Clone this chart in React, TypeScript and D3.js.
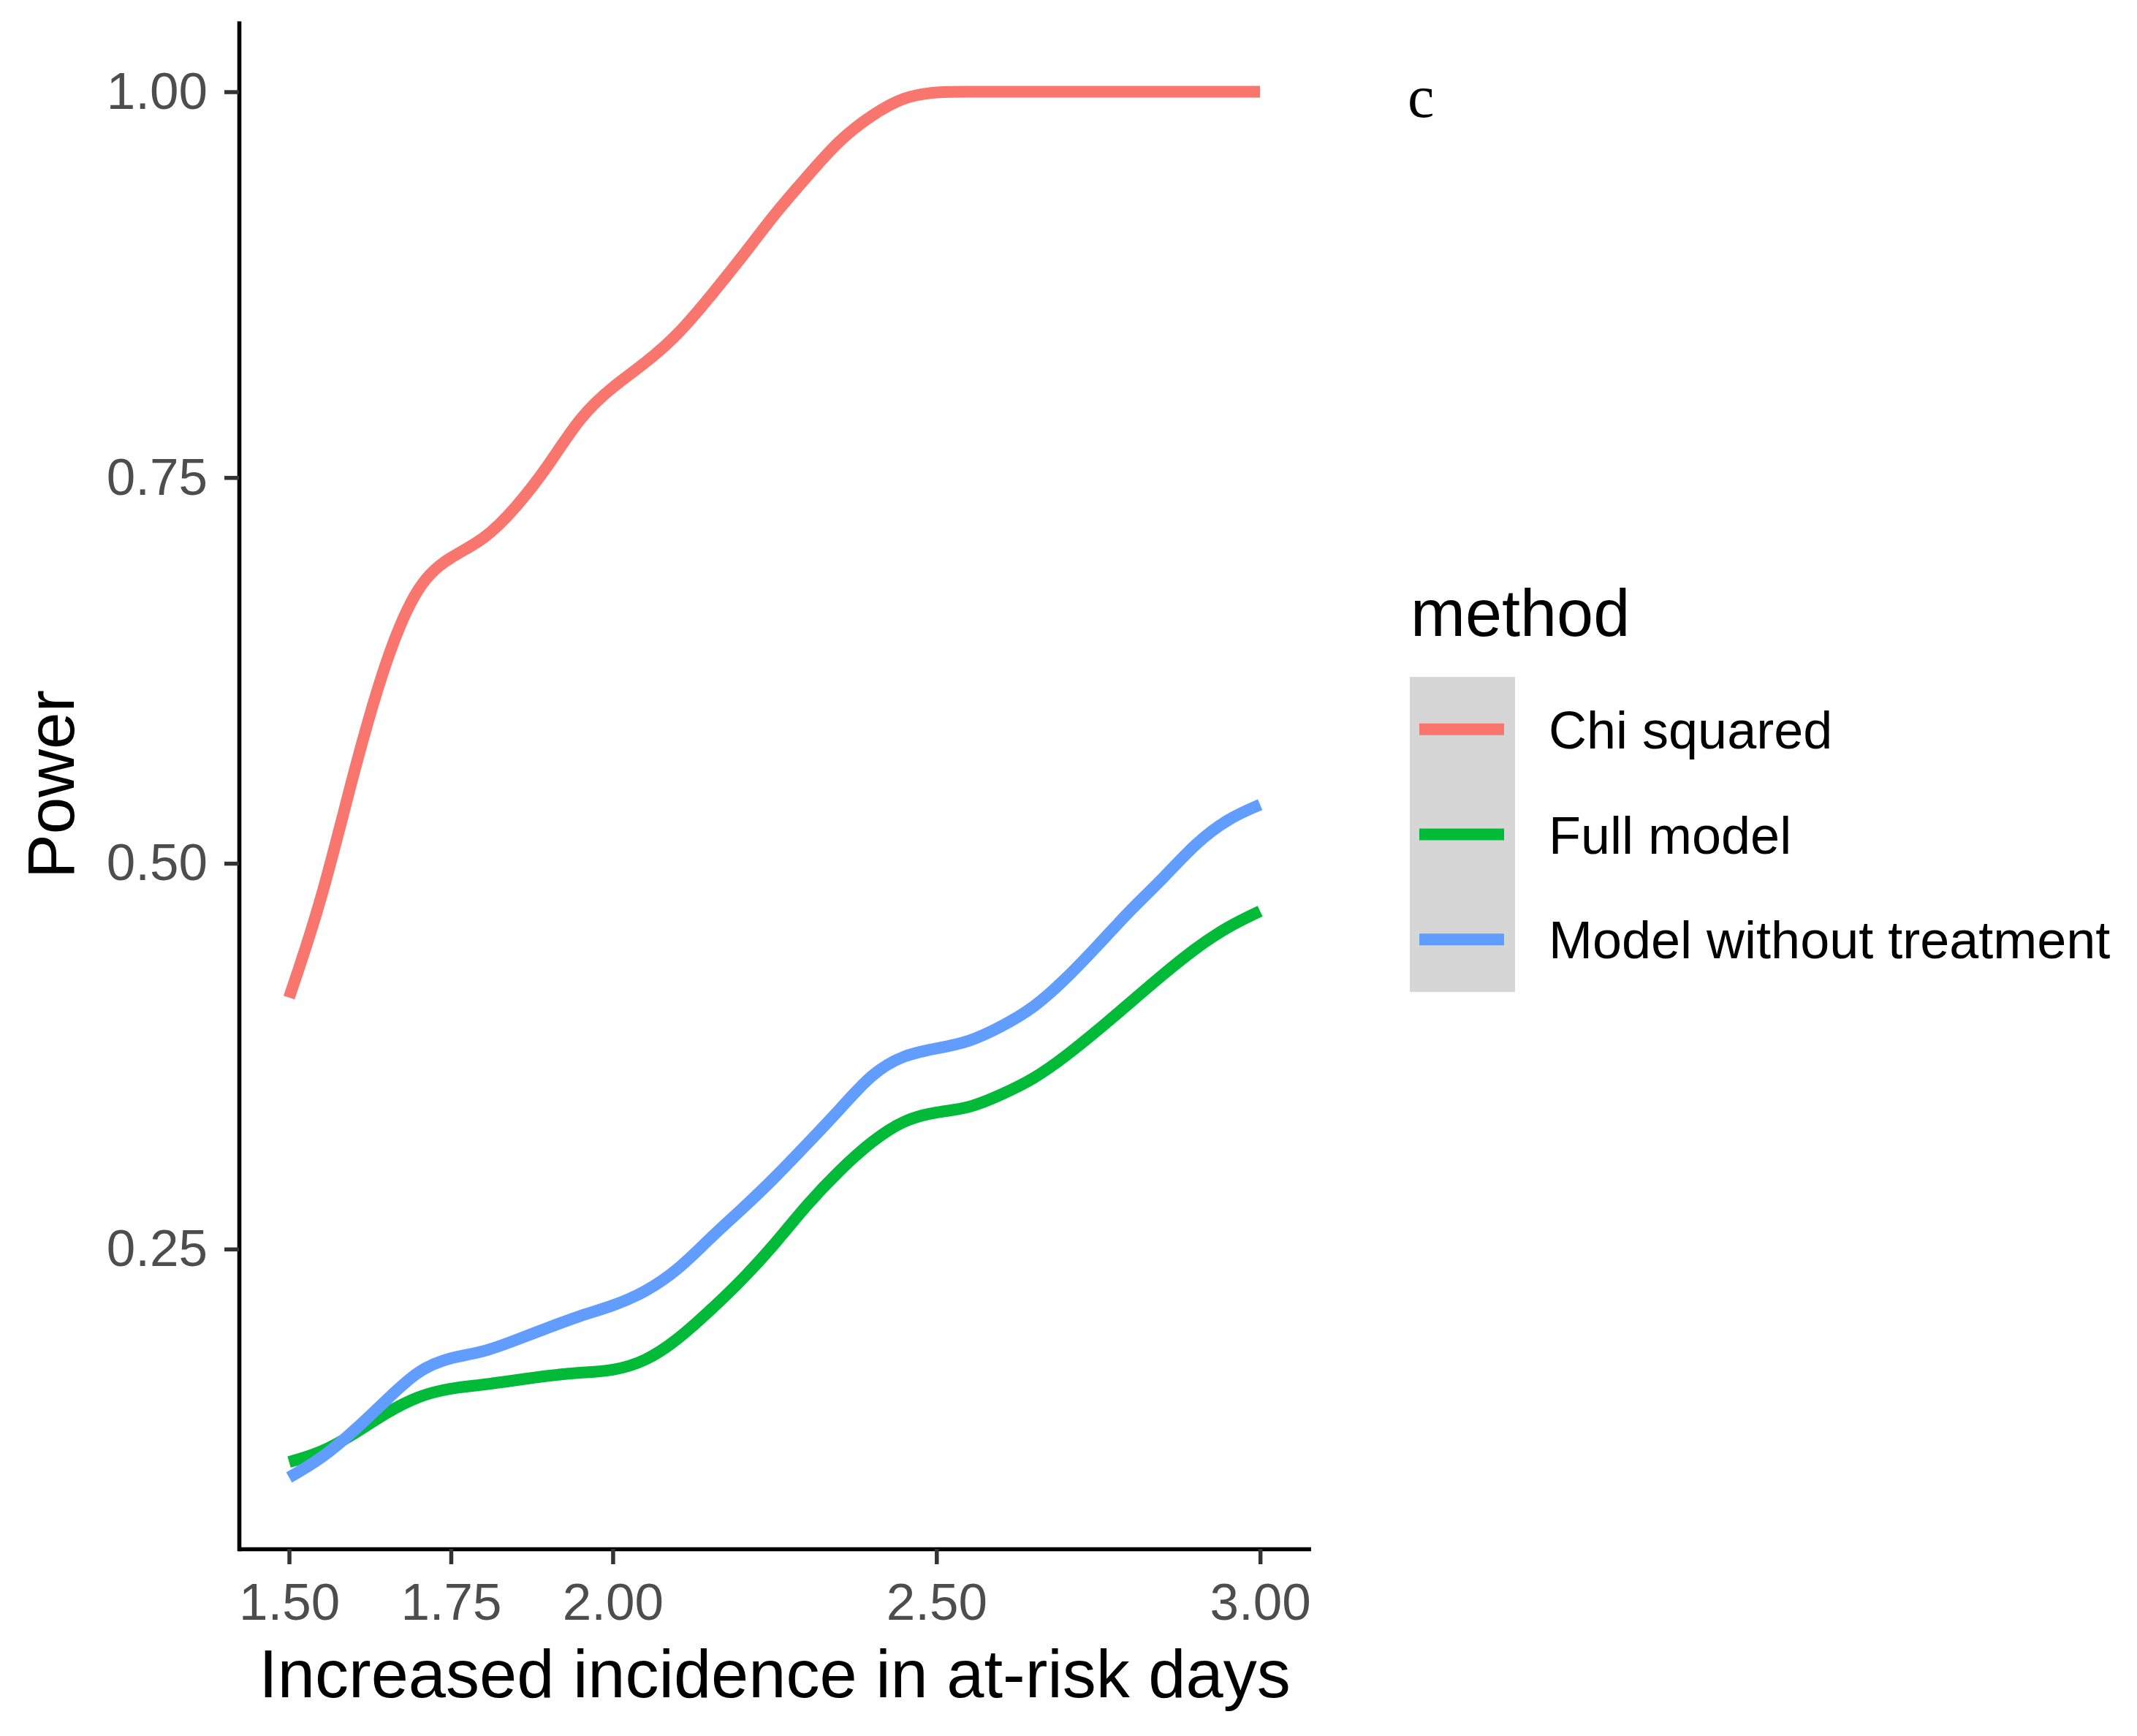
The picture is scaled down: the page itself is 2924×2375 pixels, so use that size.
import { useEffect, useRef } from "react";
import * as d3 from "d3";

// values
const incidence = [
  1.5, 1.55, 1.6, 1.65, 1.7, 1.75, 1.8, 1.85, 1.9, 1.95, 2.0, 2.05, 2.1, 2.15, 2.2, 2.25,
  2.3, 2.35, 2.4, 2.45, 2.5, 2.55, 2.6, 2.65, 2.7, 2.75, 2.8, 2.85, 2.9, 2.95, 3.0,
];
const chiSquared = [
  0.413, 0.475, 0.56, 0.634, 0.683, 0.699, 0.709, 0.73, 0.757, 0.79, 0.809, 0.824, 0.842,
  0.867, 0.893, 0.921, 0.945, 0.969, 0.985, 0.997, 1.0, 1.0, 1.0, 1.0, 1.0, 1.0, 1.0, 1.0,
  1.0, 1.0, 1.0,
];
const fullModel = [
  0.112, 0.118, 0.13, 0.144, 0.155, 0.16, 0.162, 0.165, 0.168, 0.17, 0.171, 0.177, 0.191,
  0.21, 0.23, 0.253, 0.279, 0.301, 0.32, 0.334, 0.339, 0.341, 0.35, 0.36, 0.375, 0.392,
  0.41, 0.428, 0.445, 0.459, 0.469,
];
const withoutTreatment = [
  0.102, 0.114, 0.132, 0.152, 0.172, 0.18, 0.183, 0.191, 0.199, 0.207, 0.213, 0.222, 0.236,
  0.257, 0.276, 0.296, 0.318, 0.34, 0.364, 0.376, 0.38, 0.384, 0.394, 0.406, 0.425, 0.447,
  0.47, 0.49, 0.513, 0.529, 0.538,
];
const methods = ["Chi squared", "Full model", "Model without treatment"];
const methodColors = ["#F8766D", "#00BA38", "#619CFF"];
const xTicks = [1.5, 1.75, 2.0, 2.5, 3.0];
const yTicks = [0.25, 0.5, 0.75, 1.0];

const FONT = "'Liberation Sans', Arial, Helvetica, sans-serif";

const App = () => {
  const svgRef = useRef<SVGSVGElement | null>(null);

  useEffect(() => {
    if (!svgRef.current) return;
    const svg = d3.select(svgRef.current);
    svg.selectAll("*").remove();

    const width = 2924;
    const height = 2375;
    const left = 327;
    const bottom = 2119;

    svg.append("rect").attr("width", width).attr("height", height).attr("fill", "#ffffff");

    const x = d3.scaleLinear().domain([1.425, 3.075]).range([329.1, 1790.6]);
    const y = d3.scaleLinear().domain([0.0557, 1.0445]).range([2119, 31.6]);

    // smoothed lines
    const series = [chiSquared, fullModel, withoutTreatment];
    const line = d3
      .line<number>()
      .x((_, i) => x(incidence[i]))
      .y((d) => y(d))
      .curve(d3.curveBasis);

    series.forEach((values, i) => {
      svg
        .append("path")
        .attr("d", line(values))
        .attr("fill", "none")
        .attr("stroke", methodColors[i])
        .attr("stroke-width", 16);
    });

    // axes
    const xAxis = d3
      .axisBottom(x)
      .tickValues(xTicks)
      .tickFormat(d3.format(".2f"))
      .tickSize(21)
      .tickSizeOuter(0)
      .tickPadding(26);
    const yAxis = d3
      .axisLeft(y)
      .tickValues(yTicks)
      .tickFormat(d3.format(".2f"))
      .tickSize(20)
      .tickSizeOuter(0)
      .tickPadding(23);

    const gx = svg.append("g").attr("transform", `translate(0, ${bottom})`).call(xAxis);
    const gy = svg.append("g").attr("transform", `translate(${left}, 0)`).call(yAxis);

    [gx, gy].forEach((g) => {
      g.attr("font-family", FONT).attr("font-size", 71);
      g.select(".domain")
        .attr("stroke", "#000000")
        .attr("stroke-width", 5.6)
        .attr("stroke-linecap", "square");
      g.selectAll(".tick line").attr("stroke", "#333333").attr("stroke-width", 5.5);
      g.selectAll(".tick text").attr("fill", "#4D4D4D");
    });

    // axis titles
    svg
      .append("text")
      .attr("x", 1060)
      .attr("y", 2322)
      .attr("text-anchor", "middle")
      .attr("font-family", FONT)
      .attr("font-size", 92)
      .attr("fill", "#000000")
      .text("Increased incidence in at-risk days");

    svg
      .append("text")
      .attr("transform", "translate(101, 1073) rotate(-90)")
      .attr("text-anchor", "middle")
      .attr("font-family", FONT)
      .attr("font-size", 91)
      .attr("fill", "#000000")
      .text("Power");

    // panel letter
    svg
      .append("text")
      .attr("x", 1926)
      .attr("y", 160)
      .attr("font-family", "'Liberation Serif', 'Times New Roman', serif")
      .attr("font-size", 82)
      .attr("fill", "#000000")
      .text("c");

    // legend
    const legend = svg.append("g");
    legend
      .append("text")
      .attr("x", 1930)
      .attr("y", 870)
      .attr("font-family", FONT)
      .attr("font-size", 90)
      .attr("fill", "#000000")
      .text("method");

    const keyTop = 926;
    const keyH = 143.7;
    legend
      .append("rect")
      .attr("x", 1929)
      .attr("y", keyTop)
      .attr("width", 144)
      .attr("height", keyH * methods.length)
      .attr("fill", "#D6D6D6");

    methods.forEach((m, i) => {
      const cy = keyTop + keyH * i + keyH / 2;
      legend
        .append("line")
        .attr("x1", 1942)
        .attr("x2", 2058)
        .attr("y1", cy)
        .attr("y2", cy)
        .attr("stroke", methodColors[i])
        .attr("stroke-width", 16);
      legend
        .append("text")
        .attr("x", 2119)
        .attr("y", cy + 26)
        .attr("font-family", FONT)
        .attr("font-size", 72)
        .attr("fill", "#000000")
        .text(m);
    });
  }, []);

  return (
    <svg
      ref={svgRef}
      width={2924}
      height={2375}
      style={{ position: "absolute", left: 0, top: 0, display: "block" }}
    />
  );
};

export default App;
